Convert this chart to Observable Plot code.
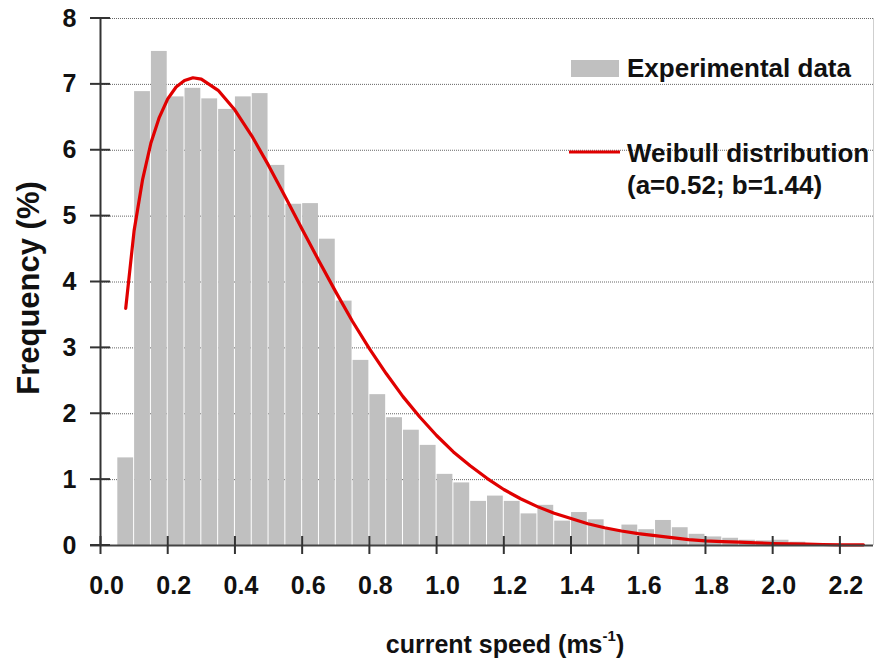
<!DOCTYPE html>
<html><head><meta charset="utf-8">
<script src="https://cdn.jsdelivr.net/npm/d3@7"></script>
<script src="https://cdn.jsdelivr.net/npm/@observablehq/plot@0.6"></script>
<style>html,body{margin:0;padding:0;background:#fff;} #chart{width:874px;height:662px;}</style>
</head><body><div id="chart"></div>
<script>
// Histogram bins (left edge, right edge) and frequencies (%)
const binStart = [0.05,0.10,0.15,0.20,0.25,0.30,0.35,0.40,0.45,0.50,0.55,0.60,0.65,0.70,0.75,0.80,0.85,0.90,0.95,1.00,1.05,1.10,1.15,1.20,1.25,1.30,1.35,1.40,1.45,1.50,1.55,1.60,1.65,1.70,1.75,1.80,1.85,1.90,1.95,2.00,2.05,2.10,2.15,2.20];
const binEnd   = [0.10,0.15,0.20,0.25,0.30,0.35,0.40,0.45,0.50,0.55,0.60,0.65,0.70,0.75,0.80,0.85,0.90,0.95,1.00,1.05,1.10,1.15,1.20,1.25,1.30,1.35,1.40,1.45,1.50,1.55,1.60,1.65,1.70,1.75,1.80,1.85,1.90,1.95,2.00,2.05,2.10,2.15,2.20,2.25];
const binFreq  = [1.33,6.89,7.50,6.81,6.94,6.78,6.62,6.81,6.86,5.77,5.18,5.19,4.65,3.71,2.81,2.29,1.94,1.75,1.52,1.08,0.95,0.67,0.75,0.67,0.48,0.61,0.37,0.50,0.39,0.24,0.31,0.24,0.38,0.27,0.17,0.13,0.11,0.08,0.07,0.08,0.05,0.03,0.02,0.01];

// Weibull curve
const curveX = [0.075,0.1,0.125,0.15,0.175,0.2,0.225,0.25,0.275,0.3,0.35,0.4,0.45,0.5,0.55,0.6,0.65,0.7,0.75,0.8,0.85,0.9,0.95,1.0,1.05,1.1,1.15,1.2,1.25,1.3,1.35,1.4,1.45,1.5,1.55,1.6,1.65,1.7,1.75,1.8,1.85,1.9,1.95,2.0,2.05,2.1,2.15,2.2,2.27];
const curveY = [3.60,4.78,5.55,6.11,6.50,6.78,6.96,7.06,7.10,7.08,6.91,6.61,6.22,5.77,5.29,4.80,4.32,3.85,3.40,2.99,2.61,2.26,1.95,1.67,1.42,1.21,1.02,0.85,0.71,0.59,0.49,0.41,0.33,0.27,0.22,0.18,0.15,0.12,0.09,0.07,0.06,0.05,0.04,0.03,0.025,0.02,0.015,0.01,0.01];

const xTicks = [0,0.2,0.4,0.6,0.8,1.0,1.2,1.4,1.6,1.8,2.0,2.2];
const yTicks = [0,1,2,3,4,5,6,7,8];
const xDomain = [0, 2.3];
const yDomain = [0, 8];
const legendLabels = ["Experimental data", "Weibull distribution", "(a=0.52; b=1.44)"];
const yTitle = "Frequency (%)";
const xTitleMain = "current speed (ms";
const xTitleSup = "-1";
const xTitleEnd = ")";

const bars = binStart.map((x0, i) => ({x1: x0, x2: binEnd[i], y: binFreq[i]}));
const curve = curveX.map((x, i) => ({x, y: curveY[i]}));

const FONT = "'Liberation Sans', Arial, Helvetica, sans-serif";
const RED = "#e00000";
const BAR = "#c0c0c0";

const W = 874, H = 662, ML = 100, MR = 1, MT = 18, MB = 117;
const plotW = W - ML - MR, plotH = H - MT - MB;

const chart = Plot.plot({
  width: W, height: H,
  marginLeft: ML, marginRight: MR, marginTop: MT, marginBottom: MB,
  x: {domain: xDomain},
  y: {domain: yDomain},
  style: {fontFamily: FONT, background: "white", overflow: "visible"},
  marks: [
    Plot.gridY({ticks: yTicks.slice(1), stroke: "#666", strokeOpacity: 1, strokeDasharray: "1,1"}),
    Plot.rectY(bars, {x1: "x1", x2: "x2", y: "y", fill: BAR, insetLeft: 0.5, insetRight: 0.5}),
    Plot.line(curve, {x: "x", y: "y", stroke: RED, strokeWidth: 3.2, strokeLinejoin: "round"}),
    Plot.ruleX([xDomain[1]], {stroke: "#cfcfcf", strokeWidth: 1}),
    Plot.ruleX([0], {stroke: "#333", strokeWidth: 2}),
    Plot.ruleY([0], {stroke: "#444", strokeWidth: 2, insetLeft: -10}),
    // x tick marks crossing the axis
    Plot.ruleX(xTicks, {stroke: "#333", strokeWidth: 2, insetTop: plotH - 9, insetBottom: -9}),
    Plot.axisX({ticks: xTicks, tickSize: 0, tickPadding: 31, tickFormat: d3.format(".1f"), fontSize: 25, fontWeight: "bold", fill: "#111", dx: 6, label: null}),
    Plot.axisY({ticks: yTicks, tickSize: 0, tickPadding: 24, tickFormat: d3.format("d"), fontSize: 25, fontWeight: "bold", fill: "#111", label: null})
  ]
});

document.getElementById("chart").appendChild(chart);

const svg = d3.select(chart);
const yScale = chart.scale("y");

// y tick marks crossing the axis, placed with Plot's own y scale
svg.append("g").attr("stroke", "#333").attr("stroke-width", 2)
  .selectAll("line").data(yTicks).join("line")
  .attr("x1", ML - 10).attr("x2", ML + 10)
  .attr("y1", d => yScale.apply(d)).attr("y2", d => yScale.apply(d));

// Titles and legend as real SVG text
const g = svg.append("g").attr("font-family", FONT).attr("font-weight", "bold").attr("fill", "#111");

g.append("text").attr("transform", "translate(28,288) rotate(-90)")
  .attr("text-anchor", "middle").attr("dominant-baseline", "central")
  .attr("font-size", 31).text(yTitle);

const xt = g.append("text").attr("x", 505).attr("y", 653).attr("text-anchor", "middle").attr("font-size", 25);
xt.append("tspan").text(xTitleMain);
xt.append("tspan").attr("font-size", 15).attr("dy", -12).text(xTitleSup);
xt.append("tspan").attr("dy", 12).text(xTitleEnd);

const lg = g.append("g").attr("font-size", 26).attr("text-anchor", "start");
lg.append("rect").attr("x", 571).attr("y", 60).attr("width", 48).attr("height", 17).attr("fill", BAR);
lg.append("text").attr("x", 627).attr("y", 77).text(legendLabels[0]);
lg.append("line").attr("x1", 569).attr("x2", 620).attr("y1", 152).attr("y2", 152).attr("stroke", RED).attr("stroke-width", 3);
lg.append("text").attr("x", 627).attr("y", 162).text(legendLabels[1]);
lg.append("text").attr("x", 627).attr("y", 194).text(legendLabels[2]);
</script>
</body></html>
